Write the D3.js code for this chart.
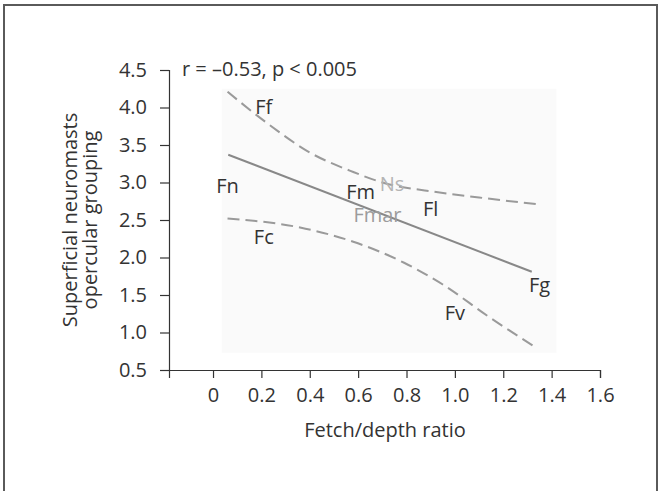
<!DOCTYPE html>
<html>
<head>
<meta charset="utf-8">
<script src="https://cdn.jsdelivr.net/npm/d3@7"></script>
<style>
  html, body { margin: 0; padding: 0; background: #fff; }
  svg { display: block; }
  text { font-family: "Open Sans", "Noto Sans", sans-serif; fill: #333; }
</style>
</head>
<body>
<svg id="chart" width="661" height="491"></svg>
<script>
// ---- data ----
const xTicks = [0, 0.2, 0.4, 0.6, 0.8, 1.0, 1.2, 1.4, 1.6];
const xTickLabels = ["0", "0.2", "0.4", "0.6", "0.8", "1.0", "1.2", "1.4", "1.6"];
const yTicks = [0.5, 1.0, 1.5, 2.0, 2.5, 3.0, 3.5, 4.0, 4.5];
const yTickLabels = ["0.5", "1.0", "1.5", "2.0", "2.5", "3.0", "3.5", "4.0", "4.5"];

const pointNames = ["Ff", "Fn", "Fm", "Ns", "Fmar", "Fl", "Fc", "Fg", "Fv"];
const pointX = [0.21, 0.06, 0.61, 0.74, 0.68, 0.90, 0.21, 1.35, 1.00];
const pointY = [4.01, 2.95, 2.87, 2.98, 2.57, 2.65, 2.27, 1.63, 1.26];

const fitX = [0.063, 1.318];
const fitY = [3.37, 1.81];
const upperX = [0.06, 0.22, 0.40, 0.58, 0.70, 0.93, 1.10, 1.34];
const upperY = [4.21, 3.80, 3.40, 3.14, 3.00, 2.87, 2.80, 2.71];
const lowerX = [0.06, 0.36, 0.58, 0.79, 0.95, 1.14, 1.34];
const lowerY = [2.52, 2.40, 2.21, 1.93, 1.64, 1.21, 0.79];

const shadeX = [0.036, 1.42];
const shadeY = [0.73, 4.25];

const annotation = "r = \u20130.53, p < 0.005";
const xTitle = "Fetch/depth ratio";
const yTitleLines = ["Superficial neuromasts", "opercular grouping"];

// ---- styles ----
const labelColors = { Ns: "#b4b4b4", Fmar: "#9c9c9c" };
const fontSize = 20;

// ---- layout ----
const svg = d3.select("#chart");
const x = d3.scaleLinear().domain([-0.182, 1.6]).range([169, 600]);
const y = d3.scaleLinear().domain([0.5, 4.5]).range([370, 70]);

// frame
svg.append("path")
  .attr("d", "M4,491 L4,5 L657,5 L657,491")
  .attr("fill", "none").attr("stroke", "#5a5a5a").attr("stroke-width", 2);

// shaded background
svg.append("rect")
  .attr("x", x(shadeX[0])).attr("y", y(shadeY[1]))
  .attr("width", x(shadeX[1]) - x(shadeX[0]))
  .attr("height", y(shadeY[0]) - y(shadeY[1]))
  .attr("fill", "#fafafa");

// axes
const xAxis = d3.axisBottom(x)
  .tickValues(xTicks)
  .tickFormat((d, i) => xTickLabels[i])
  .tickSize(8).tickSizeOuter(8).tickPadding(10);
const gx = svg.append("g").attr("transform", "translate(0,370)").call(xAxis);

const yAxis = d3.axisLeft(y)
  .tickValues(yTicks)
  .tickFormat((d, i) => yTickLabels[i])
  .tickSize(9).tickSizeOuter(9).tickPadding(13);
const gy = svg.append("g").attr("transform", "translate(169,0)").call(yAxis);

[gx, gy].forEach(g => {
  g.select(".domain").attr("stroke", "#333").attr("stroke-width", 1.2);
  g.selectAll(".tick line").attr("stroke", "#333").attr("stroke-width", 1.2);
  g.selectAll(".tick text")
    .attr("font-family", "Open Sans, sans-serif")
    .attr("font-size", fontSize).attr("fill", "#333");
});

// confidence bands
const line = d3.line().x(d => x(d[0])).y(d => y(d[1])).curve(d3.curveMonotoneX);
[[upperX, upperY], [lowerX, lowerY]].forEach(([xs, ys]) => {
  svg.append("path")
    .datum(xs.map((v, i) => [v, ys[i]]))
    .attr("d", line)
    .attr("fill", "none").attr("stroke", "#9a9a9a").attr("stroke-width", 2)
    .attr("stroke-dasharray", "12,6");
});

// regression line
svg.append("path")
  .datum(fitX.map((v, i) => [v, fitY[i]]))
  .attr("d", d3.line().x(d => x(d[0])).y(d => y(d[1])))
  .attr("fill", "none").attr("stroke", "#888").attr("stroke-width", 2);

// point labels
svg.append("g").selectAll("text")
  .data(pointNames)
  .join("text")
  .attr("x", (d, i) => x(pointX[i]))
  .attr("y", (d, i) => y(pointY[i]))
  .attr("dy", "0.35em")
  .attr("text-anchor", "middle")
  .attr("font-size", fontSize)
  .style("fill", d => labelColors[d] || "#333")
  .text(d => d);

// annotation
svg.append("text")
  .attr("x", 182).attr("y", 76)
  .attr("font-size", fontSize)
  .text(annotation);

// x title
svg.append("text")
  .attr("x", 385).attr("y", 437)
  .attr("text-anchor", "middle")
  .attr("font-size", fontSize)
  .text(xTitle);

// y title
const yt = svg.append("text")
  .attr("transform", "translate(77,220) rotate(-90)")
  .attr("text-anchor", "middle")
  .attr("font-size", fontSize);
yTitleLines.forEach((t, i) => {
  yt.append("tspan").attr("x", 0).attr("dy", i === 0 ? 0 : 20).text(t);
});
</script>
</body>
</html>
